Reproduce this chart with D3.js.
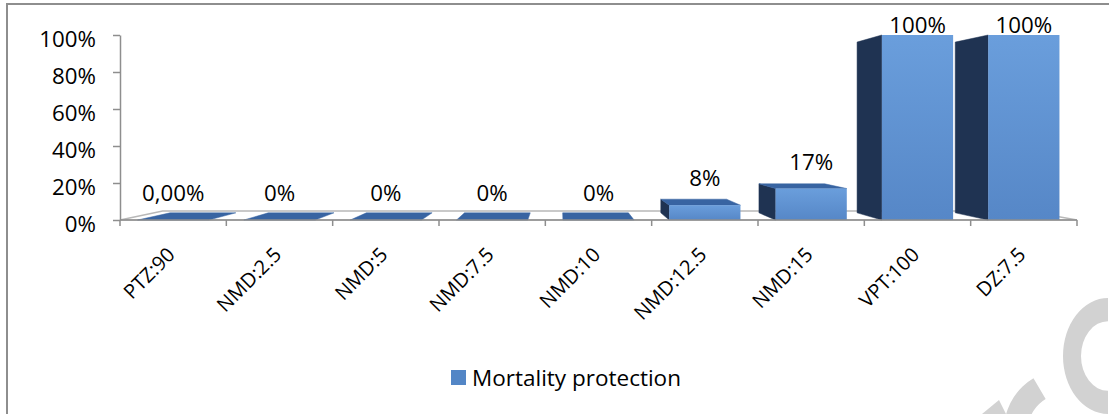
<!DOCTYPE html>
<html>
<head>
<meta charset="utf-8">
<script src="https://cdn.jsdelivr.net/npm/d3@7"></script>
<style>
  html, body { margin: 0; padding: 0; background: #fff; }
  svg { display: block; font-family: "Open Sans", sans-serif; }
</style>
</head>
<body>
<svg id="chart" width="1109" height="414"></svg>
<script>
// Data
const categories = ["PTZ:90", "NMD:2.5", "NMD:5", "NMD:7.5", "NMD:10", "NMD:12.5", "NMD:15", "VPT:100", "DZ:7.5"];
const mortality = [0, 0, 0, 0, 0, 0.08, 0.17, 1, 1];
const valueLabels = ["0,00%", "0%", "0%", "0%", "0%", "8%", "17%", "100%", "100%"];
const yTickValues = [0, 0.2, 0.4, 0.6, 0.8, 1];
const seriesName = "Mortality protection";

const svg = d3.select("#chart");

// Outer frame
svg.append("rect")
  .attr("x", 7).attr("y", 4).attr("width", 1130).attr("height", 440)
  .attr("fill", "#fff").attr("stroke", "#8e8e8e").attr("stroke-width", 2);

// Faint grey watermark strokes in the lower right corner
const wm = svg.append("g").attr("fill", "#d2d2d2");
wm.append("path")
  .attr("transform", "translate(1108,356) scale(45,58)")
  .attr("d", d3.arc()({ innerRadius: 0.6, outerRadius: 1, startAngle: Math.PI, endAngle: 2 * Math.PI }));
wm.append("path")
  .attr("transform", "translate(1064,430)")
  .attr("d", d3.arc()({ innerRadius: 36, outerRadius: 60, startAngle: 1.25 * Math.PI, endAngle: 1.83 * Math.PI }));
wm.append("path").attr("d", "M982,414L999,400L1006,414Z");

// Scales
const plotLeft = 120, plotRight = 1077, yTop = 35, yBase = 220;
const xFloor = d3.scaleBand().domain(categories).range([plotLeft, plotRight]);
const x = d3.scaleBand().domain(categories).range([plotLeft, plotRight])
  .paddingInner(0.33).paddingOuter(0.165);
const y = d3.scaleLinear().domain([0, 1]).range([yBase, yTop]);

// Perspective: points recede toward a vanishing point
const vp = { x: 560, y: 127 };
const barDepth = 0.923, floorDepth = 0.903;
const proj = (px, py, k) => [vp.x + k * (px - vp.x), vp.y + k * (py - vp.y)];
const poly = pts => "M" + pts.map(p => p.join(",")).join("L") + "Z";

// Gradient for the front faces
const defs = svg.append("defs");
const grad = defs.append("linearGradient").attr("id", "frontFill")
  .attr("x1", 0).attr("y1", 0).attr("x2", 0).attr("y2", 1);
grad.append("stop").attr("offset", "0%").attr("stop-color", "#6a9edc");
grad.append("stop").attr("offset", "100%").attr("stop-color", "#5687c7");

// Floor
const floorPts = [
  [plotLeft, yBase], [plotRight, yBase],
  proj(plotRight, yBase, floorDepth), proj(plotLeft, yBase, floorDepth)
];
svg.append("path").attr("d", poly(floorPts))
  .attr("fill", "#fff").attr("stroke", "#b8b8b8").attr("stroke-width", 1.5);

// Bars
const bars = categories.map((c, i) => ({ cat: c, v: mortality[i], label: valueLabels[i] }));
const gBars = svg.append("g");
bars.forEach(d => {
  const L = x(d.cat), R = L + x.bandwidth(), T = y(d.v), B = y(0);
  const cx = L + x.bandwidth() / 2;
  const g = gBars.append("g");
  // side face (the one turned toward the viewer)
  const sx = cx > vp.x ? L : R;
  if (T < B) {
    g.append("path")
      .attr("d", poly([[sx, T], proj(sx, T, barDepth), proj(sx, B, barDepth), [sx, B]]))
      .attr("fill", "#1f3352").attr("stroke", "#1f3352").attr("stroke-width", 0.5);
  }
  // top face, visible while the top lies below the eye line
  if (T > vp.y) {
    g.append("path")
      .attr("d", poly([[L, T], [R, T], proj(R, T, barDepth), proj(L, T, barDepth)]))
      .attr("fill", "#3864a2").attr("stroke", "#3864a2").attr("stroke-width", 0.5);
  }
  // front face
  if (T < B) {
    g.append("rect")
      .attr("x", L).attr("y", T).attr("width", R - L).attr("height", B - T)
      .attr("fill", "url(#frontFill)");
  }
});

// Value axis
const yAxis = d3.axisLeft(y).tickValues(yTickValues).tickFormat(d3.format(".0%"))
  .tickSize(7).tickSizeOuter(0).tickPadding(17);
const gy = svg.append("g").attr("transform", `translate(${plotLeft},0)`).call(yAxis);
gy.selectAll("path, line").attr("stroke", "#8e8e8e").attr("stroke-width", 1.5);
gy.selectAll("text").attr("font-size", 22.3).attr("fill", "#000")
  .attr("font-family", "'Open Sans', sans-serif").attr("dy", "0.5em");

// Category axis
const gx = svg.append("g");
gx.append("line").attr("x1", plotLeft).attr("x2", plotRight)
  .attr("y1", yBase).attr("y2", yBase)
  .attr("stroke", "#8e8e8e").attr("stroke-width", 1.5);
const boundaries = categories.map(c => xFloor(c)).concat([plotRight]);
gx.selectAll("line.tick").data(boundaries).join("line").attr("class", "tick")
  .attr("x1", d => d).attr("x2", d => d)
  .attr("y1", yBase).attr("y2", yBase + 6)
  .attr("stroke", "#8e8e8e").attr("stroke-width", 1.5);
gx.selectAll("text").data(categories).join("text")
  .attr("transform", d => `translate(${xFloor(d) + xFloor.bandwidth() / 2 + 3},256) rotate(-45)`)
  .attr("text-anchor", "end")
  .attr("font-size", 20).attr("fill", "#000")
  .text(d => d);

// Value labels
svg.append("g").selectAll("text").data(bars).join("text")
  .attr("x", d => x(d.cat) + x.bandwidth() / 2)
  .attr("y", d => Math.max(y(d.v) - 19, y(1) - 2))
  .attr("text-anchor", "middle")
  .attr("font-size", 22.3).attr("fill", "#000")
  .text(d => d.label);

// Legend
const lg = svg.append("g").attr("transform", "translate(451,370)");
lg.append("rect").attr("width", 15).attr("height", 15).attr("fill", "#5386c6");
lg.append("text").attr("x", 21).attr("y", 15.5)
  .attr("font-size", 22.5).attr("fill", "#000")
  .text(seriesName);
</script>
</body>
</html>
